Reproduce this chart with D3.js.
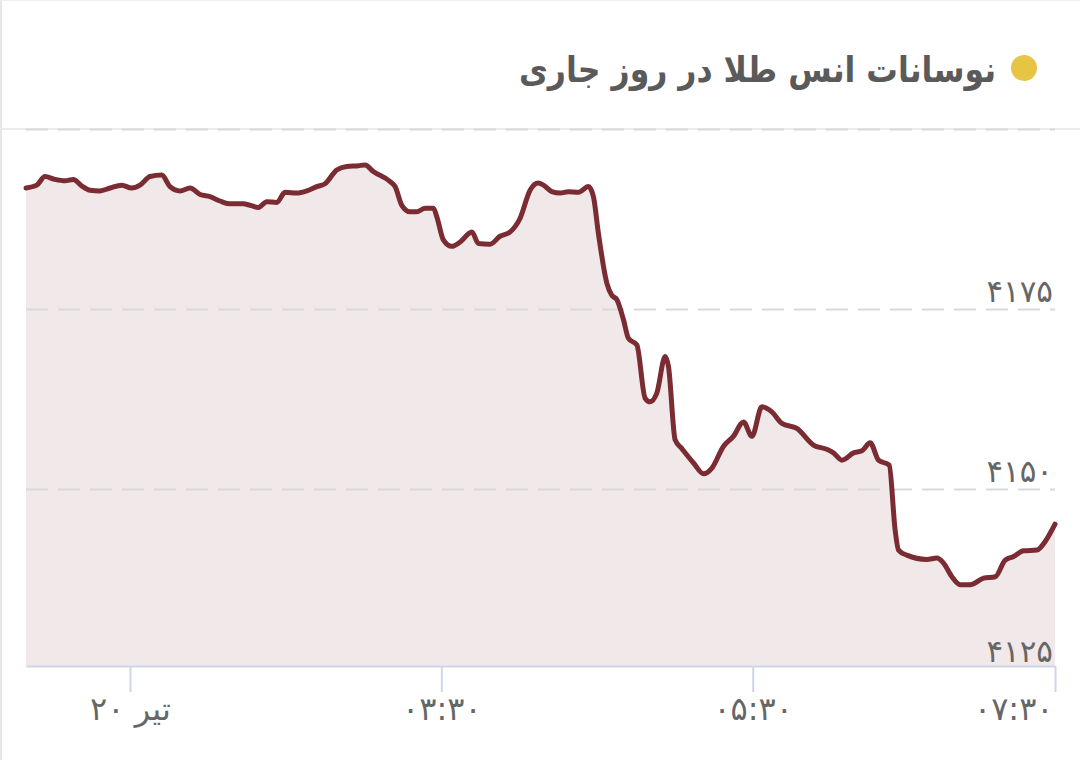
<!DOCTYPE html>
<html>
<head>
<meta charset="utf-8">
<script src="https://cdn.jsdelivr.net/npm/d3@7"></script>
<style>
  html, body { margin: 0; padding: 0; background: #ffffff; }
  svg { display: block; font-family: "DejaVu Sans", sans-serif; }
</style>
</head>
<body>
<svg id="chart" width="1080" height="760"></svg>
<script>
// ---- data (hours after local midnight, Tehran time) ----
const times = [0.832,0.901,0.954,1.018,1.083,1.136,1.190,1.243,1.307,1.372,1.447,1.511,1.564,1.629,1.704,1.757,1.821,1.886,1.950,2.014,2.078,2.143,2.228,2.271,2.325,2.379,2.443,2.496,2.571,2.636,2.700,2.753,2.828,2.892,2.967,3.010,3.063,3.171,3.203,3.246,3.299,3.342,3.396,3.449,3.471,3.513,3.567,3.621,3.696,3.738,3.813,3.877,3.942,4.006,4.070,4.123,4.156,4.210,4.263,4.316,4.381,4.445,4.477,4.509,4.563,4.595,4.627,4.670,4.702,4.756,4.809,4.841,4.884,4.938,4.959,5.002,5.045,5.120,5.184,5.238,5.312,5.376,5.441,5.495,5.559,5.623,5.688,5.784,5.890,5.976,6.019,6.073,6.148,6.202,6.255,6.308,6.377,6.415,6.437,6.490,6.619,6.683,6.726,6.780,6.833,6.897,6.983,7.058,7.122,7.176,7.240,7.326,7.379,7.442];
const prices = [4191.8,4192.2,4193.4,4193.0,4192.8,4193.0,4192.1,4191.5,4191.4,4191.8,4192.2,4191.8,4192.2,4193.4,4193.6,4192.0,4191.4,4191.8,4190.9,4190.6,4190.0,4189.6,4189.6,4189.4,4189.1,4189.9,4189.8,4191.2,4191.1,4191.4,4192.0,4192.4,4194.3,4194.8,4194.9,4195.0,4194.1,4192.7,4192.0,4189.4,4188.5,4188.5,4189.0,4189.0,4187.8,4184.6,4183.7,4184.3,4185.7,4184.1,4184.0,4185.1,4185.7,4187.6,4191.5,4192.5,4192.2,4191.3,4191.1,4191.3,4191.2,4192.0,4190.6,4185.5,4178.6,4176.9,4176.3,4173.5,4170.9,4170.0,4162.6,4162.1,4163.3,4168.4,4167.0,4156.8,4155.6,4153.6,4152.1,4152.9,4155.9,4157.3,4159.3,4157.3,4161.4,4160.7,4159.1,4158.4,4156.1,4155.5,4155.0,4154.0,4155.0,4155.3,4156.4,4154.0,4153.3,4144.3,4141.5,4140.8,4140.2,4140.4,4139.7,4137.8,4136.7,4136.7,4137.6,4137.8,4140.1,4140.6,4141.4,4141.5,4142.7,4145.1];

const xTickHours  = [1.5, 3.5, 5.5, 7.442];
const xTickLabels = ["تیر ۲۰", "۰۳:۳۰", "۰۵:۳۰", "۰۷:۳۰"];
const yTicks      = [4125, 4150, 4175, 4200];
const yTickLabels = ["۴۱۲۵", "۴۱۵۰", "۴۱۷۵", ""];
const titleText   = "نوسانات انس طلا در روز جاری";

// ---- layout ----
const W = 1080, H = 760;
const plotL = 26, plotR = 1055, plotT = 129, plotB = 666;

const svg = d3.select("#chart");

// card borders
svg.append("rect").attr("x", 0).attr("y", 0).attr("width", 2).attr("height", H).attr("fill", "#e6e6e6");
svg.append("rect").attr("x", 0).attr("y", 0).attr("width", W).attr("height", 1).attr("fill", "#eeeeee");

// header
svg.append("circle").attr("cx", 1024).attr("cy", 68).attr("r", 13).attr("fill", "#e6c444");
svg.append("text")
  .attr("x", 996).attr("y", 82)
  .attr("text-anchor", "end")
  .attr("font-size", 36).attr("font-weight", "bold")
  .attr("fill", "#5a5a5a")
  .attr("textLength", 477).attr("lengthAdjust", "spacingAndGlyphs")
  .text(titleText);

// header separator
svg.append("rect").attr("x", 0).attr("y", plotT - 1).attr("width", W).attr("height", 2).attr("fill", "#ebebeb");

const x = d3.scaleLinear().domain([0.832, 7.442]).range([plotL, plotR]);
const y = d3.scaleLinear().domain([4125.4, 4200]).range([plotB, plotT]);

const data = times.map((t, i) => ({ t, v: prices[i] }));

// area
const area = d3.area()
  .x(d => x(d.t)).y0(plotB).y1(d => y(d.v))
  .curve(d3.curveMonotoneX);
svg.append("path").datum(data).attr("d", area).attr("fill", "#f1e8e9");

// y grid + labels
const yAxis = d3.axisRight(y)
  .tickValues(yTicks)
  .tickSize(plotR - plotL)
  .tickPadding(-2)
  .tickFormat((d, i) => yTickLabels[i]);
const gy = svg.append("g").attr("transform", `translate(${plotL},0)`).call(yAxis);
gy.select(".domain").remove();
gy.selectAll(".tick line")
  .attr("stroke", "#d9d9d9").attr("stroke-width", 2)
  .attr("stroke-dasharray", "22,10");
gy.selectAll(".tick").filter(d => d === 4125).select("line").remove();
gy.selectAll(".tick text")
  .attr("text-anchor", "end").attr("dy", 0).attr("y", -7)
  .attr("font-size", 31).attr("fill", "#666666")
  .attr("font-family", "DejaVu Sans, sans-serif");

// line
const line = d3.line().x(d => x(d.t)).y(d => y(d.v)).curve(d3.curveMonotoneX);
svg.append("path").datum(data).attr("d", line)
  .attr("fill", "none").attr("stroke", "#7a2c32").attr("stroke-width", 5)
  .attr("stroke-linejoin", "round").attr("stroke-linecap", "round");

// x axis
const xAxis = d3.axisBottom(x)
  .tickValues(xTickHours)
  .tickSize(26).tickSizeOuter(0)
  .tickPadding(6)
  .tickFormat((d, i) => xTickLabels[i]);
const gx = svg.append("g").attr("transform", `translate(0,${plotB})`).call(xAxis);
gx.select(".domain").attr("stroke", "#ccd6eb").attr("stroke-width", 2);
gx.selectAll(".tick line").attr("stroke", "#ccd6eb").attr("stroke-width", 2);
gx.selectAll(".tick text")
  .attr("font-size", 32).attr("fill", "#666666")
  .attr("font-family", "DejaVu Sans, sans-serif")
  .attr("dy", 0).attr("y", 54)
  .attr("direction", "rtl");
gx.selectAll(".tick text").filter((d, i) => i === xTickHours.length - 1)
  .attr("direction", "ltr").attr("text-anchor", "end").attr("x", -2);
</script>
</body>
</html>
